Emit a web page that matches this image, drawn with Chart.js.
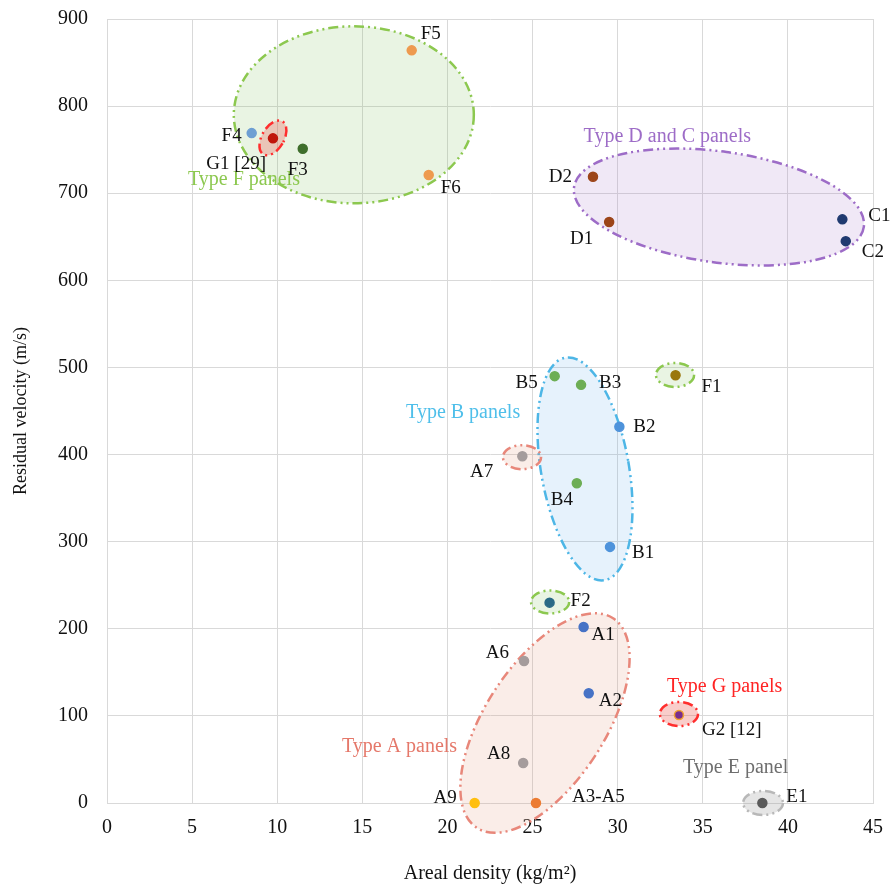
<!DOCTYPE html>
<html>
<head>
<meta charset="utf-8">
<script src="https://cdn.jsdelivr.net/npm/chart.js@4/dist/chart.umd.min.js"></script>
<style>
  html, body { margin: 0; padding: 0; background: #ffffff; }
  canvas { display: block; }
</style>
</head>
<body>
<canvas id="chart" width="891" height="888"></canvas>
<script>
// Panel designations and their measured results
const panelNames = ['F5', 'F4', 'G1 [29]', 'F3', 'F6', 'D2', 'D1', 'C1', 'C2', 'F1',
  'B5', 'B3', 'B2', 'A7', 'B4', 'B1', 'F2', 'A1', 'A6', 'A2', 'G2 [12]', 'A8', 'A9', 'A3-A5', 'E1'];
const arealDensity = [17.9, 8.5, 9.75, 11.5, 18.9, 28.55, 29.5, 43.2, 43.4, 33.4,
  26.3, 27.85, 30.1, 24.4, 27.6, 29.55, 26.0, 28.0, 24.5, 28.3, 33.6, 24.45, 21.6, 25.2, 38.5];
const residualVelocity = [864, 769, 763, 751, 721, 719, 667, 670, 645, 491,
  490, 480, 432, 398, 367, 294, 230, 202, 163, 126, 101, 46, 0, 0, 0];
const pointColors = ['#EE9A4F', '#6E9FD3', '#C0160C', '#3F6E2C', '#EE9A4F', '#9C4519', '#9C4519', '#203A70', '#203A70', '#9A770B',
  '#6DAE55', '#6DAE55', '#4E93DB', '#A59C9C', '#6DAE55', '#4E93DB', '#2A6A86', '#4773C6', '#A59C9C', '#4773C6', '#7A2D8F', '#A59C9C', '#FFBF10', '#EC7C33', '#5A5A5A'];
const pointBorders = pointColors.map((c, i) => panelNames[i] === 'G2 [12]' ? '#F0A030' : c);

// Axis ticks
const xTicks = [0, 5, 10, 15, 20, 25, 30, 35, 40, 45];
const yTicks = [0, 100, 200, 300, 400, 500, 600, 700, 800, 900];

// Where each point's name sits relative to its marker (pixels)
const labelPlacement = [
  [9, -16, 'left'], [-10, 3, 'right'], [-7, 26, 'right'], [-5, 21, 'center'], [12, 13, 'left'],
  [-21, 0, 'right'], [-16, 17, 'right'], [26, -3, 'left'], [16, 11, 'left'], [26, 12, 'left'],
  [-17, 7, 'right'], [18, -2, 'left'], [14, 0, 'left'], [-29, 16, 'right'], [-15, 17, 'center'],
  [22, 6, 'left'], [21, -2, 'left'], [8, 8, 'left'], [-15, -8, 'right'], [10, 8, 'left'],
  [23, 15, 'left'], [-13, -9, 'right'], [-18, -5, 'right'], [36, -6, 'left'], [24, -6, 'left']
];

// Group outlines: centre in axis units, radii in axis units, tilt in degrees
const GREEN = { fill: 'rgba(120,185,80,0.16)', stroke: '#8CC84F' };
const PURPLE = { fill: 'rgba(160,110,200,0.16)', stroke: '#9D6CC7' };
const BLUE = { fill: 'rgba(90,170,235,0.15)', stroke: '#4DB6E6' };
const SALMON = { fill: 'rgba(225,140,110,0.16)', stroke: '#E8877A' };
const RED = { fill: 'rgba(235,90,80,0.30)', stroke: '#FF2E2E' };
const GREY = { fill: 'rgba(150,150,150,0.25)', stroke: '#B8B8B8' };
const groupShapes = [
  { cx: 14.5, cy: 790, rx: 7.05, ry: 101.6, rot: 0, style: GREEN },
  { cx: 35.95, cy: 684.2, rx: 8.59, ry: 63.7, rot: 7.8, style: PURPLE },
  { cx: 28.08, cy: 383.5, rx: 2.58, ry: 129.7, rot: -10, style: BLUE },
  { cx: 25.73, cy: 91.8, rx: 3.52, ry: 143.5, rot: 33, style: SALMON },
  { cx: 9.75, cy: 763.5, rx: 0.65, ry: 21.8, rot: 30, style: RED },
  { cx: 24.38, cy: 397, rx: 1.12, ry: 13.8, rot: 0, style: SALMON },
  { cx: 33.37, cy: 491.4, rx: 1.12, ry: 13.8, rot: 0, style: GREEN },
  { cx: 26.03, cy: 230.8, rx: 1.12, ry: 13.2, rot: 0, style: GREEN },
  { cx: 33.6, cy: 102.2, rx: 1.12, ry: 13.8, rot: 0, style: RED },
  { cx: 38.54, cy: 0, rx: 1.17, ry: 13.8, rot: 0, style: GREY }
];

// Group captions, anchored at their left end in axis units
const groupCaptions = [
  { text: 'Type F panels', x: 4.76, y: 716, color: '#8CC84F' },
  { text: 'Type D and C panels', x: 28.0, y: 764.6, color: '#9D6CC7' },
  { text: 'Type B panels', x: 17.57, y: 447.8, color: '#4FBFEA' },
  { text: 'Type A panels', x: 13.8, y: 64.3, color: '#E5786A' },
  { text: 'Type G panels', x: 32.9, y: 133.2, color: '#FF2424' },
  { text: 'Type E panel', x: 33.84, y: 40.2, color: '#6E6E6E' }
];

const SERIF = "'Liberation Serif', 'Times New Roman', serif";

const groupPlugin = {
  id: 'groupOutlines',
  beforeDatasetsDraw(chart) {
    const { ctx, scales: { x, y } } = chart;
    const pxX = Math.abs(x.getPixelForValue(1) - x.getPixelForValue(0));
    const pxY = Math.abs(y.getPixelForValue(1) - y.getPixelForValue(0));
    groupShapes.forEach(g => {
      ctx.save();
      ctx.translate(x.getPixelForValue(g.cx), y.getPixelForValue(g.cy));
      ctx.rotate(g.rot * Math.PI / 180);
      ctx.beginPath();
      ctx.ellipse(0, 0, g.rx * pxX, g.ry * pxY, 0, 0, Math.PI * 2);
      ctx.fillStyle = g.style.fill;
      ctx.fill();
      ctx.setLineDash([10, 4, 2, 4, 2, 4]);
      ctx.lineWidth = 2.5;
      ctx.strokeStyle = g.style.stroke;
      ctx.stroke();
      ctx.restore();
    });
  },
  afterDatasetsDraw(chart) {
    const { ctx, scales: { x, y } } = chart;
    ctx.save();
    ctx.textBaseline = 'middle';
    ctx.font = '20px ' + SERIF;
    groupCaptions.forEach(c => {
      ctx.fillStyle = c.color;
      ctx.textAlign = 'left';
      ctx.fillText(c.text, x.getPixelForValue(c.x), y.getPixelForValue(c.y));
    });
    const meta = chart.getDatasetMeta(0);
    ctx.font = '19px ' + SERIF;
    ctx.fillStyle = '#111111';
    meta.data.forEach((pt, i) => {
      const [dx, dy, align] = labelPlacement[i];
      ctx.textAlign = align;
      ctx.fillText(panelNames[i], pt.x + dx, pt.y + dy);
    });
    ctx.restore();
  }
};

new Chart(document.getElementById('chart'), {
  type: 'scatter',
  data: {
    datasets: [{
      data: arealDensity.map((v, i) => ({ x: v, y: residualVelocity[i] })),
      backgroundColor: pointColors,
      borderColor: pointBorders,
      borderWidth: 1.5,
      pointRadius: 4.5,
      clip: false
    }]
  },
  options: {
    responsive: false,
    devicePixelRatio: 1,
    animation: false,
    layout: { padding: { top: 19, right: 18, left: 0, bottom: 0 } },
    plugins: { legend: { display: false }, tooltip: { enabled: false } },
    scales: {
      x: {
        type: 'linear', min: 0, max: 45,
        afterBuildTicks: s => { s.ticks = xTicks.map(v => ({ value: v })); },
        afterFit: s => { s.height = 85; s.paddingLeft = 0; s.paddingRight = 0; },
        grid: { color: '#D9D9D9', drawTicks: false },
        border: { color: '#D9D9D9' },
        ticks: { padding: 13, color: '#111111', font: { family: SERIF, size: 20 } },
        title: { display: true, text: 'Areal density (kg/m²)', color: '#111111',
          font: { family: SERIF, size: 20 }, padding: { top: 0, bottom: 2 } }
      },
      y: {
        type: 'linear', min: 0, max: 900,
        afterBuildTicks: s => { s.ticks = yTicks.map(v => ({ value: v })); },
        afterFit: s => { s.width = 107; s.paddingTop = 0; s.paddingBottom = 0; },
        grid: { color: '#D9D9D9', drawTicks: false },
        border: { color: '#D9D9D9' },
        ticks: { padding: 19, color: '#111111', font: { family: SERIF, size: 20 } },
        title: { display: true, text: 'Residual velocity (m/s)', color: '#111111',
          font: { family: SERIF, size: 18 }, padding: { top: 10, bottom: 0 } }
      }
    }
  },
  plugins: [groupPlugin]
});
</script>
</body>
</html>
